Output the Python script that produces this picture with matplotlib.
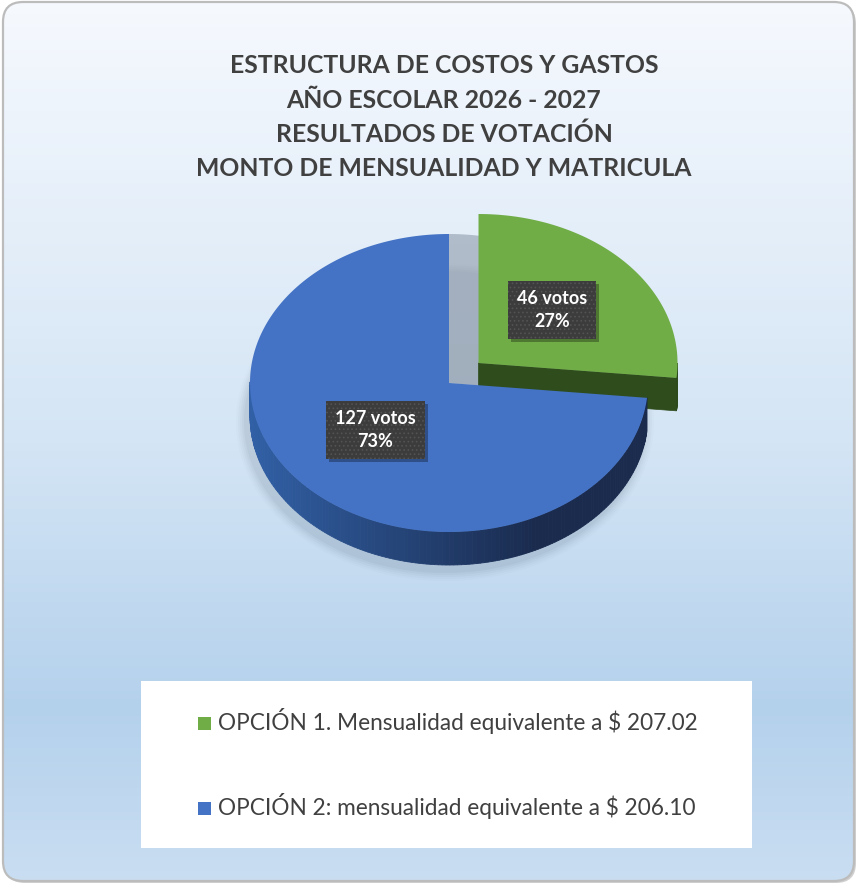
import numpy as np
import matplotlib.pyplot as plt
from matplotlib.patches import Polygon, FancyBboxPatch, Rectangle
from matplotlib.colors import to_rgb

# ---- data ----
title_lines = ["ESTRUCTURA DE COSTOS Y GASTOS",
               "AÑO ESCOLAR 2026 - 2027",
               "RESULTADOS DE VOTACIÓN",
               "MONTO DE MENSUALIDAD Y MATRICULA"]
options = ["OPCIÓN 1. Mensualidad equivalente a $ 207.02",
           "OPCIÓN 2: mensualidad equivalente a $ 206.10"]
votes = [46, 127]
explode = [0.2, 0.0]

# ---- style / layout ----
top_colors = ["#70ad47", "#4472c4"]
wall_colors = [("#3f6a27", "#2c4a1b"), ("#3160a6", "#1a2b4e")]
cut_colors = ["#2e4c1c", "#1f3660"]
text_grey = "#404040"
W, H = 858, 885
CX, CY = 449, 383      # pie centre (pixels)
RX, RY = 199, 149      # ellipse radii of the top face
DEPTH = 33
LABEL_FS = 13

plt.rcParams['font.family'] = ['Lato', 'DejaVu Sans']
plt.rcParams['hatch.linewidth'] = 0.7

fig = plt.figure(figsize=(W / 100, H / 100), dpi=100)
ax = fig.add_axes([0, 0, 1, 1])
ax.set_xlim(0, W)
ax.set_ylim(H, 0)
ax.axis('off')
renderer = fig.canvas.get_renderer()

# background: rounded frame with vertical gradient
frame = FancyBboxPatch((3, 2), W - 7, H - 6, boxstyle="round,pad=0,rounding_size=20",
                       fc='none', ec='#bcbcbc', lw=1.6, zorder=3)
shadow = FancyBboxPatch((5, 4), W - 7, H - 6, boxstyle="round,pad=0,rounding_size=20",
                        fc='#d0d0d0', ec='none', zorder=0)
ax.add_patch(shadow)
ax.add_patch(frame)
stops = [0.0, 0.5, 0.8, 1.0]
stop_cols = [to_rgb("#f6f9fe"), to_rgb("#d4e5f5"), to_rgb("#b4d1ec"), to_rgb("#cadef2")]
yy = np.linspace(0, 1, H)
grad = np.stack([np.interp(yy, stops, [c[k] for c in stop_cols]) for k in range(3)], axis=1)
grad = np.repeat(grad[:, None, :], 2, axis=1)
bg = FancyBboxPatch((3, 2), W - 7, H - 6, boxstyle="round,pad=0,rounding_size=20",
                    fc='none', ec='none')
ax.add_patch(bg)
im = ax.imshow(grad, extent=[0, W, H, 0], aspect='auto', zorder=1)
im.set_clip_path(bg)


def rim(cx, cy, t, dz=0):
    r = np.radians(t)
    return cx + RX * np.cos(r), cy - RY * np.sin(r) + dz


def mix(c1, c2, f):
    a, b = np.array(to_rgb(c1)), np.array(to_rgb(c2))
    return tuple(a * (1 - f) + b * f)


# slice angles (start at 12 o'clock, clockwise)
total = sum(votes)
cum = np.concatenate([[0], np.cumsum(votes)])
t1s = 90 - 360 * cum[:-1] / total
t2s = 90 - 360 * cum[1:] / total

slices = []
for i, v in enumerate(votes):
    mid = (t1s[i] + t2s[i]) / 2
    cx = CX + explode[i] * RX * np.cos(np.radians(mid))
    cy = CY - explode[i] * RY * np.sin(np.radians(mid))
    slices.append((cy, i, cx, mid))

# soft shadow under the whole pie
for k, a in enumerate(np.linspace(0.02, 0.05, 5)):
    grow = 10 - 2 * k
    ts = np.linspace(0, 360, 200)
    pts = [(CX - 4 + (RX + grow) * np.cos(np.radians(t)),
            CY + DEPTH + 6 - (RY + grow) * np.sin(np.radians(t))) for t in ts]
    ax.add_patch(Polygon(pts, closed=True, fc='#405060', ec='none', alpha=a, zorder=2))

# drop shadow of exploded slices
for cy, i, cx, mid in slices:
    if explode[i] > 0:
        ts = np.linspace(t1s[i], t2s[i], 100)
        pts = [(cx - 30, cy + 20)] + [rim(cx - 30, cy + 20, t) for t in ts]
        ax.add_patch(Polygon(pts, closed=True, fc='#8f9baa', ec='none', alpha=0.6, zorder=4))

# draw back to front
z = 5
for cy, i, cx, mid in sorted(slices):
    t1, t2 = t1s[i], t2s[i]
    # radial cut faces
    for t, normal in ((t2, t2 - 90), (t1, t1 + 90)):
        if np.sin(np.radians(normal)) < -1e-6:
            p = rim(cx, cy, t)
            quad = [(cx, cy), p, (p[0], p[1] + DEPTH), (cx, cy + DEPTH)]
            ax.add_patch(Polygon(quad, closed=True, fc=cut_colors[i], ec=cut_colors[i], lw=0.5, zorder=z))
    # outer wall (front half only)
    ts = np.linspace(t1, t2, 240)
    light, dark = wall_colors[i]
    for a, b in zip(ts[:-1], ts[1:]):
        m = (a + b) / 2
        if np.sin(np.radians(m)) < 0:
            f = (np.cos(np.radians(m)) + 1) / 2
            col = mix(light, dark, min(1, f * 1.4))
            q = [rim(cx, cy, a), rim(cx, cy, b), rim(cx, cy, b, DEPTH), rim(cx, cy, a, DEPTH)]
            ax.add_patch(Polygon(q, closed=True, fc=col, ec=col, lw=0.6, zorder=z))
    # top face
    pts = [(cx, cy)] + [rim(cx, cy, t) for t in ts]
    ax.add_patch(Polygon(pts, closed=True, fc=top_colors[i], ec='none', zorder=z + 1))
    # data label with a small drop shadow
    lx = cx + 0.5 * RX * np.cos(np.radians(mid))
    ly = cy - 0.5 * RY * np.sin(np.radians(mid)) - 3
    lab = f"{votes[i]} votos\n{round(100 * votes[i] / total)}%"
    txt = ax.text(lx, ly, lab, ha='center', va='center', color='white',
                  fontsize=LABEL_FS, fontweight='bold', linespacing=1.45, zorder=z + 3,
                  bbox=dict(boxstyle='square,pad=0.5', fc='#3c3c3c', ec='#535353', lw=0, hatch='....'))
    ext = txt.get_window_extent(renderer)
    pad = 0.5 * LABEL_FS * 100 / 72
    (x0, y0), (x1, y1) = ax.transData.inverted().transform(
        [(ext.x0 - pad, ext.y0 - pad), (ext.x1 + pad, ext.y1 + pad)])
    ax.add_patch(Rectangle((min(x0, x1) + 3, min(y0, y1) + 3), abs(x1 - x0), abs(y1 - y0),
                           fc='black', ec='none', alpha=0.3, zorder=z + 2))
    z += 4

# title
title_base = [73, 107.5, 142, 176.5]
tt = []
for line, yb in zip(title_lines, title_base):
    tt.append(ax.text(444, yb, line, ha='center', va='baseline', fontsize=18,
                      fontweight='bold', color=text_grey, zorder=30))
w = tt[-1].get_window_extent(renderer).width
for t in tt:
    t.set_fontsize(18 * 495 / w)

# legend box
ax.add_patch(Rectangle((141, 681), 611, 167, fc='white', ec='none', zorder=20))
leg_base = [730, 815]
lt = []
for i, (lab, yb) in enumerate(zip(options, leg_base)):
    ax.add_patch(Rectangle((198, yb - 13), 13, 13, fc=top_colors[i], ec='none', zorder=21))
    lt.append(ax.text(218, yb, lab, ha='left', va='baseline', fontsize=16,
                      color=text_grey, zorder=21))
w = lt[0].get_window_extent(renderer).width
for t in lt:
    t.set_fontsize(16 * 481 / w)

fig.savefig("out.png", dpi=100)
